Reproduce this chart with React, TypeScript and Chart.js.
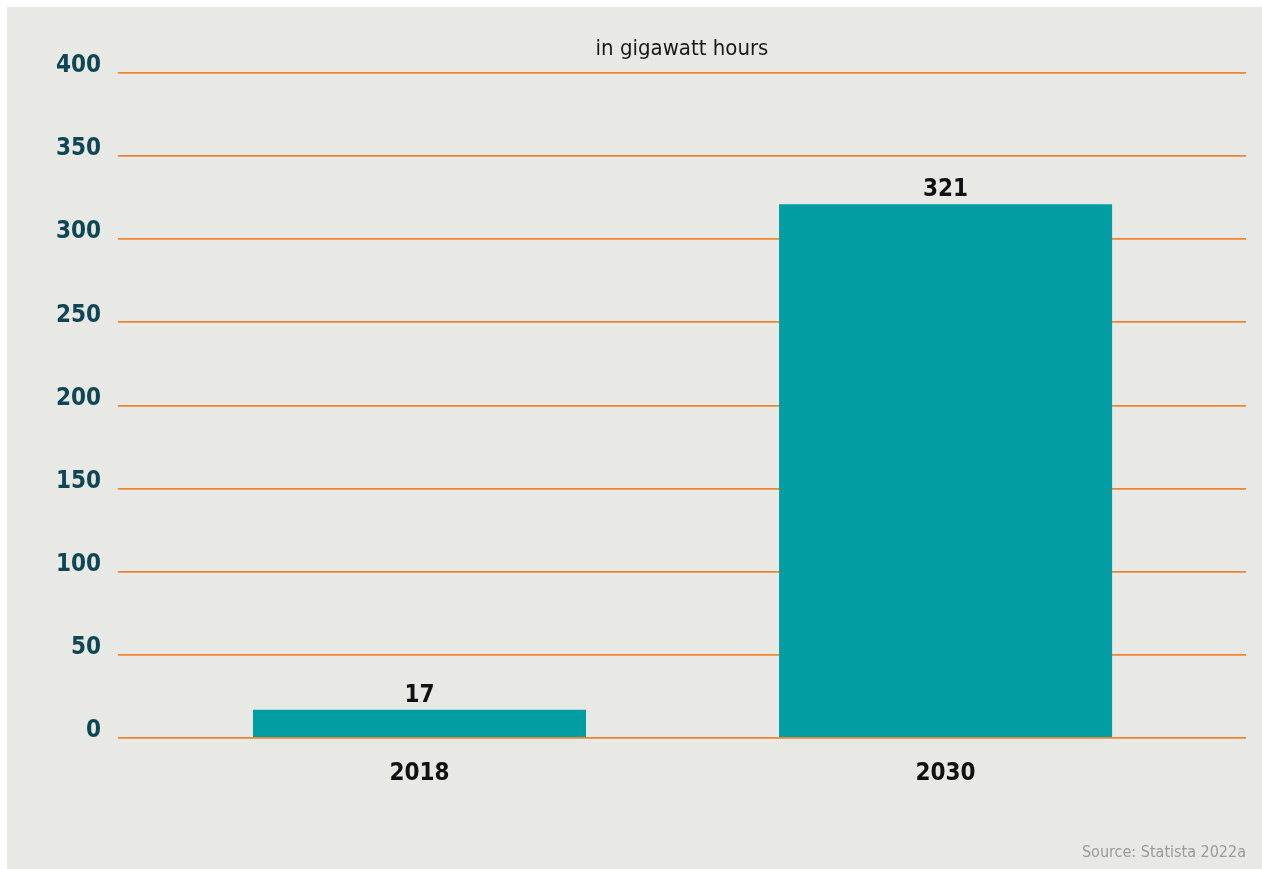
import React, { useEffect, useRef } from "react";
import { Chart, registerables } from "chart.js";

Chart.register(...registerables);

const categories = ["2018", "2030"];
const values = [17, 321];
const yTicks = [0, 50, 100, 150, 200, 250, 300, 350, 400];
const unitLabel = "in gigawatt hours";
const sourceLabel = "Source: Statista 2022a";

const FONT = "'Liberation Sans Narrow', 'DejaVu Sans Condensed', 'Arial Narrow', sans-serif";

const overlayPlugin = {
  id: "overlay",
  afterDatasetsDraw(chart: any) {
    const { ctx, chartArea } = chart;
    const meta = chart.getDatasetMeta(0);
    ctx.save();
    ctx.fillStyle = "#111111";
    ctx.font = `bold 24px ${FONT}`;
    ctx.textAlign = "center";
    ctx.textBaseline = "alphabetic";
    meta.data.forEach((bar: any, i: number) => {
      ctx.fillText(String(values[i]), bar.x, bar.y - 8);
    });
    ctx.font = `22px ${FONT}`;
    ctx.fillStyle = "#1a1a1a";
    ctx.fillText(unitLabel, (chartArea.left + chartArea.right) / 2, 48);
    ctx.font = `16px ${FONT}`;
    ctx.fillStyle = "#9a9a9a";
    ctx.textAlign = "right";
    ctx.fillText(sourceLabel, chartArea.right, 850);
    ctx.restore();
  },
};

export default function App() {
  const ref = useRef<HTMLCanvasElement | null>(null);
  useEffect(() => {
    if (!ref.current) return;
    const chart = new Chart(ref.current, {
      type: "bar",
      data: {
        datasets: [
          {
            data: categories.map((c, i) => ({ x: i, y: values[i] })),
            backgroundColor: "#009EA2",
            categoryPercentage: 1,
            barPercentage: 0.633,
          },
        ],
      },
      options: {
        animation: false,
        responsive: false,
        maintainAspectRatio: false,
        layout: { padding: { left: 0, right: 16, top: 66, bottom: 0 } },
        plugins: {
          legend: { display: false },
          tooltip: { enabled: false },
          title: { display: false },
        },
        scales: {
          x: {
            type: "linear",
            offset: false,
            min: -0.573,
            max: 1.571,
            grid: { display: false, drawTicks: false, offset: false },
            border: { display: false },
            afterBuildTicks: (axis: any) => {
              axis.ticks = categories.map((_, i) => ({ value: i }));
            },
            afterFit: (axis: any) => {
              axis.height = 131;
            },
            ticks: {
              autoSkip: false,
              padding: 21,
              color: "#111111",
              font: { family: FONT, size: 24, weight: "bold" },
              callback: (v: any) => categories[v] ?? "",
            },
          },
          y: {
            min: 0,
            max: 400,
            afterBuildTicks: (axis: any) => {
              axis.ticks = yTicks.map((v) => ({ value: v }));
            },
            afterFit: (axis: any) => {
              axis.width = 111;
            },
            grid: { color: "#EE8430", lineWidth: 1.8, drawTicks: false },
            border: { display: false },
            ticks: {
              padding: 17,
              labelOffset: -7,
              color: "#0F4655",
              font: { family: FONT, size: 24, weight: "bold" },
            },
          },
        },
      },
      plugins: [overlayPlugin],
    });
    return () => chart.destroy();
  }, []);
  return (
    <div
      style={{
        position: "absolute",
        left: 7,
        top: 7,
        width: 1255,
        height: 862,
        background: "#E8E9E4",
      }}
    >
      <canvas ref={ref} width={1255} height={862} style={{ display: "block" }} />
    </div>
  );
}
